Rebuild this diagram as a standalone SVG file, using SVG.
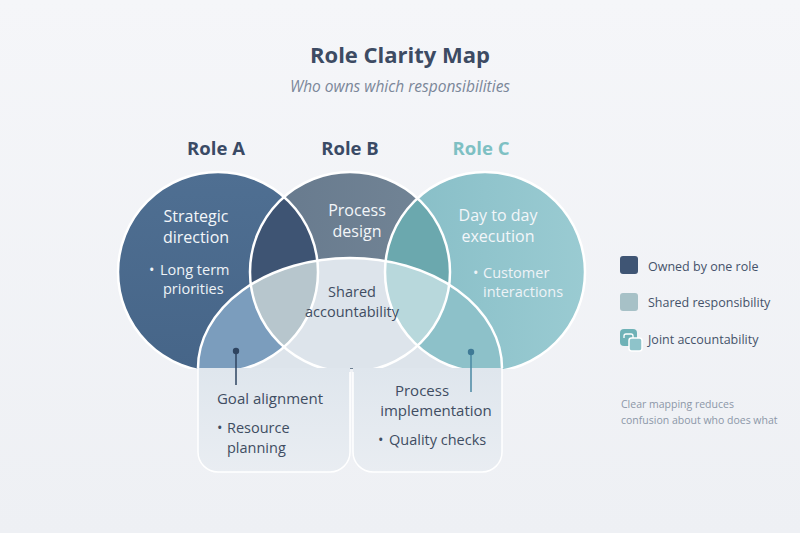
<svg xmlns="http://www.w3.org/2000/svg" width="800" height="533" viewBox="0 0 800 533">
<style>
  text { font-family: "Open Sans", "Noto Sans", "Liberation Sans", sans-serif; }
  .title { font-size: 22px; font-weight: 700; fill: #3d4b63; text-anchor: middle; }
  .sub { font-size: 15.5px; font-style: italic; fill: #7b8799; text-anchor: middle; }
  .role { font-size: 18.5px; font-weight: 700; text-anchor: middle; }
  .inw { font-size: 16px; fill: #f3f6f9; text-anchor: middle; }
  .inws { font-size: 14.5px; fill: #eef3f7; }
  .dark { font-size: 15px; fill: #3f4d62; }
  .darks { font-size: 14.5px; fill: #3f4d62; }
  .leg { font-size: 12.5px; fill: #45526a; }
  .note { font-size: 10.5px; fill: #8c97a8; }
  .outline { fill: none; stroke: #ffffff; stroke-width: 2.5; }
  .boxline { fill: none; stroke: #ffffff; stroke-width: 1.5; }
</style>
<defs>
  <linearGradient id="bg" x1="0" y1="0" x2="0" y2="1">
    <stop offset="0" stop-color="#f5f6f9"/>
    <stop offset="1" stop-color="#eef0f4"/>
  </linearGradient>
  <linearGradient id="gA" x1="0" y1="0" x2="0" y2="1">
    <stop offset="0" stop-color="#4f6f92"/>
    <stop offset="1" stop-color="#466588"/>
  </linearGradient>
  <linearGradient id="gB" x1="0" y1="0" x2="1" y2="0">
    <stop offset="0" stop-color="#66798d"/>
    <stop offset="1" stop-color="#738596"/>
  </linearGradient>
  <linearGradient id="gC" x1="0" y1="0" x2="1" y2="0">
    <stop offset="0" stop-color="#86bdc6"/>
    <stop offset="1" stop-color="#9acbd2"/>
  </linearGradient>
  <linearGradient id="gBox" x1="0" y1="0" x2="0" y2="1">
    <stop offset="0" stop-color="#dfe6ed"/>
    <stop offset="1" stop-color="#e9edf2"/>
  </linearGradient>
  <clipPath id="clipTop"><rect x="0" y="0" width="800" height="369"/></clipPath>
  <clipPath id="clipA"><circle cx="218" cy="272" r="100"/></clipPath>
  <clipPath id="clipB"><circle cx="350" cy="272" r="100"/></clipPath>
  <clipPath id="clipE"><path d="M198,368 A152,110 0 0 1 502,368 Z"/></clipPath>
</defs>

<rect width="800" height="533" fill="url(#bg)"/>

<text class="title" x="400" y="63">Role Clarity Map</text>
<text class="sub" x="400" y="92">Who owns which responsibilities</text>

<g clip-path="url(#clipTop)">
<g id="roleA">
  <circle cx="218" cy="272" r="100" fill="url(#gA)"/>
</g>
<g id="roleB">
  <circle cx="350" cy="272" r="100" fill="url(#gB)"/>
</g>
<g id="roleC">
  <circle cx="485" cy="272" r="100" fill="url(#gC)"/>
</g>

<g id="overlaps">
  <circle cx="350" cy="272" r="100" fill="#3e5473" clip-path="url(#clipA)"/>
  <circle cx="485" cy="272" r="100" fill="#6ba8ae" clip-path="url(#clipB)"/>
</g>

<g id="shared">
  <path d="M198,368 A152,110 0 0 1 502,368 Z" fill="#dde4eb"/>
  <circle cx="218" cy="272" r="100" fill="#7b9dbd" clip-path="url(#clipE)"/>
  <circle cx="485" cy="272" r="100" fill="#8dc1c9" clip-path="url(#clipE)"/>
  <g clip-path="url(#clipE)">
    <circle cx="350" cy="272" r="100" fill="#b7c6cd" clip-path="url(#clipA)"/>
  </g>
  <g clip-path="url(#clipE)">
    <circle cx="485" cy="272" r="100" fill="#b8d8dc" clip-path="url(#clipB)"/>
  </g>
</g>

<g id="outlines">
  <circle class="outline" cx="218" cy="272" r="100"/>
  <circle class="outline" cx="350" cy="272" r="100"/>
  <circle class="outline" cx="485" cy="272" r="100"/>
  <path class="outline" d="M198,368 A152,110 0 0 1 502,368"/>
</g>
</g>

<g id="roleTitles">
  <text class="role" x="216" y="155" fill="#3a4a65">Role A</text>
  <text class="role" x="350" y="155" fill="#3a4a65">Role B</text>
  <text class="role" x="481" y="155" fill="#7ec0c3">Role C</text>
</g>

<g id="goalBox">
  <path d="M198,368 H350 V452 A20,20 0 0 1 330,472 H218 A20,20 0 0 1 198,452 Z" fill="url(#gBox)"/>
  <path class="boxline" d="M198,368 V452 A20,20 0 0 0 218,472 H330 A20,20 0 0 0 350,452 V372"/>
  <text class="dark" x="270" y="404" text-anchor="middle">Goal alignment</text>
  <text class="darks" x="217" y="433">•</text>
  <text class="darks" x="227" y="433">Resource</text>
  <text class="darks" x="227" y="453">planning</text>
</g>

<g id="implBox">
  <path d="M353,368 H502 V452 A20,20 0 0 1 482,472 H373 A20,20 0 0 1 353,452 Z" fill="url(#gBox)"/>
  <path class="boxline" d="M353,372 V452 A20,20 0 0 0 373,472 H482 A20,20 0 0 0 502,452 V368"/>
  <text class="dark" x="422" y="396" text-anchor="middle">Process</text>
  <text class="dark" x="436" y="416" text-anchor="middle">implementation</text>
  <text class="darks" x="378" y="445" fill="#6fb5b8">•</text>
  <text class="darks" x="389" y="445">Quality checks</text>
</g>

<g id="labels">
  <text class="inw" x="196" y="222">Strategic</text>
  <text class="inw" x="196" y="243">direction</text>
  <text class="inws" x="149" y="275">•</text>
  <text class="inws" x="160" y="275">Long term</text>
  <text class="inws" x="163" y="294">priorities</text>
  <text class="inw" x="357" y="216" fill="#eef1f4">Process</text>
  <text class="inw" x="357" y="237" fill="#eef1f4">design</text>
  <text class="inw" x="498" y="221">Day to day</text>
  <text class="inw" x="498" y="242">execution</text>
  <text class="inws" x="473" y="278">•</text>
  <text class="inws" x="483" y="278">Customer</text>
  <text class="inws" x="483" y="297">interactions</text>
  <text class="darks" x="352" y="297" text-anchor="middle">Shared</text>
  <text class="darks" x="352" y="317" text-anchor="middle">accountability</text>
</g>

<g id="connectors">
  <line x1="236" y1="351" x2="236" y2="385" stroke="#2e4460" stroke-width="1.5"/>
  <circle cx="236" cy="351" r="3.2" fill="#2e4460"/>
  <line x1="471" y1="352" x2="471" y2="392" stroke="#4a88a3" stroke-width="1.5"/>
  <circle cx="471" cy="352" r="3.2" fill="#3f7a96"/>
</g>

<g id="legend">
  <rect x="620" y="256" width="18" height="18" rx="3" fill="#3f5574"/>
  <text class="leg" x="648" y="271">Owned by one role</text>
  <rect x="620" y="293" width="18" height="18" rx="3" fill="#a7c1c7"/>
  <text class="leg" x="648" y="307">Shared responsibility</text>
  <rect x="620" y="329" width="17" height="17" rx="4" fill="#6fb2b7"/>
  <path d="M624,338 v-2 a2,2 0 0 1 2,-2 h5 a2,2 0 0 1 2,2 v2" fill="none" stroke="#ffffff" stroke-width="1.3"/>
  <rect x="629" y="338" width="13" height="13" rx="2.5" fill="#8ec3ca" stroke="#ffffff" stroke-width="1.5"/>
  <text class="leg" x="648" y="344">Joint accountability</text>
</g>

<g id="note">
  <text class="note" x="621" y="408">Clear mapping reduces</text>
  <text class="note" x="621" y="424">confusion about who does what</text>
</g>
</svg>
